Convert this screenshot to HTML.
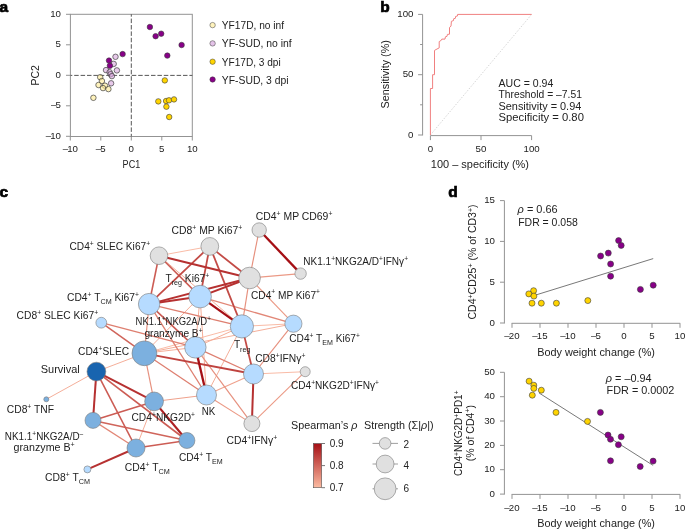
<!DOCTYPE html>
<html><head><meta charset="utf-8"><style>
html,body{margin:0;padding:0;background:#fff;}
svg{display:block;font-family:"Liberation Sans", sans-serif;will-change:transform;}
</style></head><body>
<svg width="685" height="530" viewBox="0 0 685 530">
<text x="-0.6" y="12" font-size="15.5" font-weight="bold" stroke="#000" stroke-width="0.7">a</text>
<text x="380.2" y="12.2" font-size="15.5" font-weight="bold" stroke="#000" stroke-width="0.7">b</text>
<text x="-0.4" y="196.6" font-size="15.5" font-weight="bold" stroke="#000" stroke-width="0.7">c</text>
<text x="448.2" y="197.1" font-size="15.5" font-weight="bold" stroke="#000" stroke-width="0.7">d</text>
<rect x="70.4" y="14.3" width="121.9" height="122.2" fill="none" stroke="#939393" stroke-width="1"/>
<line x1="131.3" y1="14.3" x2="131.3" y2="136.5" stroke="#444" stroke-width="0.9" stroke-dasharray="4.5 1.9" stroke-dashoffset="2.1"/>
<line x1="70.4" y1="75.4" x2="192.3" y2="75.4" stroke="#444" stroke-width="0.9" stroke-dasharray="4.5 1.9" stroke-dashoffset="2.6"/>
<line x1="66" y1="136.3" x2="70.4" y2="136.3" stroke="#939393"/>
<line x1="70.3" y1="136.5" x2="70.3" y2="140.5" stroke="#939393"/>
<text x="61" y="138.9" font-size="9.7" text-anchor="end" fill="#222"><tspan>–</tspan><tspan dx="-0.9">10</tspan></text>
<text x="70.3" y="152.1" font-size="9.7" text-anchor="middle" fill="#222"><tspan>–</tspan><tspan dx="-0.9">10</tspan></text>
<line x1="66" y1="105.8" x2="70.4" y2="105.8" stroke="#939393"/>
<line x1="100.8" y1="136.5" x2="100.8" y2="140.5" stroke="#939393"/>
<text x="61" y="108.4" font-size="9.7" text-anchor="end" fill="#222"><tspan>–</tspan><tspan dx="-0.9">5</tspan></text>
<text x="100.8" y="152.1" font-size="9.7" text-anchor="middle" fill="#222"><tspan>–</tspan><tspan dx="-0.9">5</tspan></text>
<line x1="66" y1="75.3" x2="70.4" y2="75.3" stroke="#939393"/>
<line x1="131.3" y1="136.5" x2="131.3" y2="140.5" stroke="#939393"/>
<text x="61" y="77.9" font-size="9.7" text-anchor="end" fill="#222">0</text>
<text x="131.3" y="152.1" font-size="9.7" text-anchor="middle" fill="#222">0</text>
<line x1="66" y1="44.8" x2="70.4" y2="44.8" stroke="#939393"/>
<line x1="161.8" y1="136.5" x2="161.8" y2="140.5" stroke="#939393"/>
<text x="61" y="47.4" font-size="9.7" text-anchor="end" fill="#222">5</text>
<text x="161.8" y="152.1" font-size="9.7" text-anchor="middle" fill="#222">5</text>
<line x1="66" y1="14.3" x2="70.4" y2="14.3" stroke="#939393"/>
<line x1="192.3" y1="136.5" x2="192.3" y2="140.5" stroke="#939393"/>
<text x="61" y="16.9" font-size="9.7" text-anchor="end" fill="#222">10</text>
<text x="192.3" y="152.1" font-size="9.7" text-anchor="middle" fill="#222">10</text>
<text x="122.6" y="168" font-size="10.5" fill="#222" textLength="17.6" lengthAdjust="spacingAndGlyphs">PC1</text>
<text transform="translate(38.6,75.3) rotate(-90)" x="0" y="0" font-size="10.5" text-anchor="middle" fill="#222">PC2</text>
<circle cx="100.2" cy="77.2" r="2.75" fill="#ffec94" fill-opacity="0.62" stroke="#3a3a3a" stroke-width="0.75" stroke-opacity="0.9"/>
<circle cx="101.9" cy="81" r="2.75" fill="#ffec94" fill-opacity="0.62" stroke="#3a3a3a" stroke-width="0.75" stroke-opacity="0.9"/>
<circle cx="98.5" cy="85" r="2.75" fill="#ffec94" fill-opacity="0.62" stroke="#3a3a3a" stroke-width="0.75" stroke-opacity="0.9"/>
<circle cx="105" cy="85.7" r="2.75" fill="#ffec94" fill-opacity="0.62" stroke="#3a3a3a" stroke-width="0.75" stroke-opacity="0.9"/>
<circle cx="103" cy="88.1" r="2.75" fill="#ffec94" fill-opacity="0.62" stroke="#3a3a3a" stroke-width="0.75" stroke-opacity="0.9"/>
<circle cx="108.4" cy="89.1" r="2.75" fill="#ffec94" fill-opacity="0.62" stroke="#3a3a3a" stroke-width="0.75" stroke-opacity="0.9"/>
<circle cx="93.4" cy="97.8" r="2.75" fill="#ffec94" fill-opacity="0.62" stroke="#3a3a3a" stroke-width="0.75" stroke-opacity="0.9"/>
<circle cx="106" cy="70.1" r="2.75" fill="#d7a5dc" fill-opacity="0.6" stroke="#3a3a3a" stroke-width="0.75" stroke-opacity="0.9"/>
<circle cx="116.9" cy="70.4" r="2.75" fill="#d7a5dc" fill-opacity="0.6" stroke="#3a3a3a" stroke-width="0.75" stroke-opacity="0.9"/>
<circle cx="109.6" cy="72.2" r="2.75" fill="#d7a5dc" fill-opacity="0.6" stroke="#3a3a3a" stroke-width="0.75" stroke-opacity="0.9"/>
<circle cx="110.7" cy="74.2" r="2.75" fill="#d7a5dc" fill-opacity="0.6" stroke="#3a3a3a" stroke-width="0.75" stroke-opacity="0.9"/>
<circle cx="111.9" cy="76.1" r="2.75" fill="#d7a5dc" fill-opacity="0.6" stroke="#3a3a3a" stroke-width="0.75" stroke-opacity="0.9"/>
<circle cx="111.1" cy="83.3" r="2.75" fill="#d7a5dc" fill-opacity="0.6" stroke="#3a3a3a" stroke-width="0.75" stroke-opacity="0.9"/>
<circle cx="115.5" cy="56.8" r="2.75" fill="#d7a5dc" fill-opacity="0.6" stroke="#3a3a3a" stroke-width="0.75" stroke-opacity="0.9"/>
<circle cx="113.7" cy="63.9" r="2.75" fill="#d7a5dc" fill-opacity="0.6" stroke="#3a3a3a" stroke-width="0.75" stroke-opacity="0.9"/>
<circle cx="149.9" cy="27.0" r="2.75" fill="#880088" fill-opacity="1" stroke="#3a3a3a" stroke-width="0.6" stroke-opacity="1"/>
<circle cx="155.6" cy="36.2" r="2.75" fill="#880088" fill-opacity="1" stroke="#3a3a3a" stroke-width="0.6" stroke-opacity="1"/>
<circle cx="161.2" cy="33.7" r="2.75" fill="#880088" fill-opacity="1" stroke="#3a3a3a" stroke-width="0.6" stroke-opacity="1"/>
<circle cx="181.6" cy="45.0" r="2.75" fill="#880088" fill-opacity="1" stroke="#3a3a3a" stroke-width="0.6" stroke-opacity="1"/>
<circle cx="167.3" cy="55.6" r="2.75" fill="#880088" fill-opacity="1" stroke="#3a3a3a" stroke-width="0.6" stroke-opacity="1"/>
<circle cx="122.6" cy="54.1" r="2.75" fill="#880088" fill-opacity="1" stroke="#3a3a3a" stroke-width="0.6" stroke-opacity="1"/>
<circle cx="109" cy="60.6" r="2.75" fill="#880088" fill-opacity="1" stroke="#3a3a3a" stroke-width="0.6" stroke-opacity="1"/>
<circle cx="109.9" cy="65.8" r="2.75" fill="#880088" fill-opacity="1" stroke="#3a3a3a" stroke-width="0.6" stroke-opacity="1"/>
<circle cx="164.8" cy="80.4" r="2.75" fill="#ffd400" fill-opacity="1" stroke="#3a3a3a" stroke-width="0.6" stroke-opacity="1"/>
<circle cx="158.3" cy="101.4" r="2.75" fill="#ffd400" fill-opacity="1" stroke="#3a3a3a" stroke-width="0.6" stroke-opacity="1"/>
<circle cx="166.1" cy="101" r="2.75" fill="#ffd400" fill-opacity="1" stroke="#3a3a3a" stroke-width="0.6" stroke-opacity="1"/>
<circle cx="169" cy="100.3" r="2.75" fill="#ffd400" fill-opacity="1" stroke="#3a3a3a" stroke-width="0.6" stroke-opacity="1"/>
<circle cx="174" cy="99.4" r="2.75" fill="#ffd400" fill-opacity="1" stroke="#3a3a3a" stroke-width="0.6" stroke-opacity="1"/>
<circle cx="166.4" cy="106.7" r="2.75" fill="#ffd400" fill-opacity="1" stroke="#3a3a3a" stroke-width="0.6" stroke-opacity="1"/>
<circle cx="169.2" cy="117" r="2.75" fill="#ffd400" fill-opacity="1" stroke="#3a3a3a" stroke-width="0.6" stroke-opacity="1"/>
<circle cx="212.6" cy="25.1" r="2.7" fill="#fff3bd" fill-opacity="1" stroke="#3a3a3a" stroke-width="0.5" stroke-opacity="1"/>
<text x="221.8" y="29.1" font-size="10.7" fill="#222" textLength="62.3" lengthAdjust="spacingAndGlyphs">YF17D, no inf</text>
<circle cx="212.6" cy="43.4" r="2.7" fill="#e4c3e8" fill-opacity="1" stroke="#3a3a3a" stroke-width="0.5" stroke-opacity="1"/>
<text x="221.8" y="47.4" font-size="10.7" fill="#222" textLength="69.9" lengthAdjust="spacingAndGlyphs">YF-SUD, no inf</text>
<circle cx="212.6" cy="61.7" r="2.7" fill="#ffd400" fill-opacity="1" stroke="#3a3a3a" stroke-width="0.5" stroke-opacity="1"/>
<text x="221.8" y="65.7" font-size="10.7" fill="#222" textLength="58.9" lengthAdjust="spacingAndGlyphs">YF17D, 3 dpi</text>
<circle cx="212.6" cy="79.5" r="2.7" fill="#880088" fill-opacity="1" stroke="#3a3a3a" stroke-width="0.5" stroke-opacity="1"/>
<text x="221.8" y="83.5" font-size="10.7" fill="#222" textLength="66.8" lengthAdjust="spacingAndGlyphs">YF-SUD, 3 dpi</text>
<line x1="422.6" y1="14.4" x2="422.6" y2="135.4" stroke="#939393"/>
<line x1="418.1" y1="135.0" x2="422.6" y2="135.0" stroke="#939393"/>
<text x="413.5" y="137.6" font-size="9.7" text-anchor="end" fill="#222">0</text>
<line x1="420.1" y1="104.8" x2="422.6" y2="104.8" stroke="#939393"/>
<line x1="418.1" y1="74.7" x2="422.6" y2="74.7" stroke="#939393"/>
<text x="413.5" y="77.3" font-size="9.7" text-anchor="end" fill="#222">50</text>
<line x1="420.1" y1="44.5" x2="422.6" y2="44.5" stroke="#939393"/>
<line x1="418.1" y1="14.4" x2="422.6" y2="14.4" stroke="#939393"/>
<text x="413.5" y="17.0" font-size="9.7" text-anchor="end" fill="#222">100</text>
<line x1="430.4" y1="135.6" x2="531.6" y2="135.6" stroke="#939393"/>
<line x1="430.4" y1="135.6" x2="430.4" y2="140.1" stroke="#939393"/>
<text x="430.4" y="151.8" font-size="9.7" text-anchor="middle" fill="#222">0</text>
<line x1="481.0" y1="135.6" x2="481.0" y2="140.1" stroke="#939393"/>
<text x="481.0" y="151.8" font-size="9.7" text-anchor="middle" fill="#222">50</text>
<line x1="531.6" y1="135.6" x2="531.6" y2="140.1" stroke="#939393"/>
<text x="531.6" y="151.8" font-size="9.7" text-anchor="middle" fill="#222">100</text>
<text x="430.8" y="168" font-size="10.5" fill="#222" textLength="98.2" lengthAdjust="spacingAndGlyphs">100 – specificity (%)</text>
<text transform="translate(388.6,74.3) rotate(-90)" x="-34.1" font-size="10.5" fill="#222" textLength="68.2" lengthAdjust="spacingAndGlyphs">Sensitivity (%)</text>
<line x1="430.4" y1="135" x2="531.6" y2="14.4" stroke="#bbb" stroke-width="0.6" stroke-dasharray="1.5 1.5"/>
<polyline fill="none" stroke="#f08080" stroke-width="1" points="430.4,135 430.4,88.5 432.6,88.5 432.6,74.7 434.5,74.7 434.5,50.4 437,49 439.2,47.9 439.2,41.6 441.4,40.2 441.8,39.1 445,39.1 445.4,36.8 447,36.4 447.4,34.4 449.5,34.2 449.5,27.4 451,26.2 451.4,21.3 453.5,20.6 453.7,18.7 455.4,18.3 455.6,16.4 457.5,16 457.6,14.4 531.6,14.4"/>
<text x="498.5" y="87.00" font-size="10.9" fill="#222" textLength="54.8" lengthAdjust="spacingAndGlyphs">AUC = 0.94</text>
<text x="498.5" y="98.45" font-size="10.9" fill="#222" textLength="83.4" lengthAdjust="spacingAndGlyphs">Threshold = –7.51</text>
<text x="498.5" y="109.90" font-size="10.9" fill="#222" textLength="82.8" lengthAdjust="spacingAndGlyphs">Sensitivity = 0.94</text>
<text x="498.5" y="121.35" font-size="10.9" fill="#222" textLength="85.4" lengthAdjust="spacingAndGlyphs">Specificity = 0.80</text>
<line x1="504.4" y1="200.6" x2="504.4" y2="323.5" stroke="#939393"/>
<line x1="500" y1="323.0" x2="504.4" y2="323.0" stroke="#939393"/>
<text x="495" y="325.7" font-size="9.7" text-anchor="end" fill="#222">0</text>
<line x1="500" y1="282.2" x2="504.4" y2="282.2" stroke="#939393"/>
<text x="495" y="284.9" font-size="9.7" text-anchor="end" fill="#222">5</text>
<line x1="500" y1="241.4" x2="504.4" y2="241.4" stroke="#939393"/>
<text x="495" y="244.1" font-size="9.7" text-anchor="end" fill="#222">10</text>
<line x1="500" y1="200.6" x2="504.4" y2="200.6" stroke="#939393"/>
<text x="495" y="203.3" font-size="9.7" text-anchor="end" fill="#222">15</text>
<line x1="511.6" y1="323.3" x2="680.2" y2="323.3" stroke="#939393"/>
<line x1="512.0" y1="323.3" x2="512.0" y2="327.8" stroke="#939393"/>
<text x="512.0" y="339.0" font-size="9.7" text-anchor="middle" fill="#222"><tspan>–</tspan><tspan dx="-0.9">20</tspan></text>
<line x1="540.0" y1="323.3" x2="540.0" y2="327.8" stroke="#939393"/>
<text x="540.0" y="339.0" font-size="9.7" text-anchor="middle" fill="#222"><tspan>–</tspan><tspan dx="-0.9">15</tspan></text>
<line x1="568.0" y1="323.3" x2="568.0" y2="327.8" stroke="#939393"/>
<text x="568.0" y="339.0" font-size="9.7" text-anchor="middle" fill="#222"><tspan>–</tspan><tspan dx="-0.9">10</tspan></text>
<line x1="596.0" y1="323.3" x2="596.0" y2="327.8" stroke="#939393"/>
<text x="596.0" y="339.0" font-size="9.7" text-anchor="middle" fill="#222"><tspan>–</tspan><tspan dx="-0.9">5</tspan></text>
<line x1="624.0" y1="323.3" x2="624.0" y2="327.8" stroke="#939393"/>
<text x="624.0" y="339.0" font-size="9.7" text-anchor="middle" fill="#222">0</text>
<line x1="652.0" y1="323.3" x2="652.0" y2="327.8" stroke="#939393"/>
<text x="652.0" y="339.0" font-size="9.7" text-anchor="middle" fill="#222">5</text>
<line x1="680.0" y1="323.3" x2="680.0" y2="327.8" stroke="#939393"/>
<text x="680.0" y="339.0" font-size="9.7" text-anchor="middle" fill="#222">10</text>
<line x1="504.4" y1="372.3" x2="504.4" y2="494.6" stroke="#939393"/>
<line x1="500" y1="494.1" x2="504.4" y2="494.1" stroke="#939393"/>
<text x="495" y="496.8" font-size="9.7" text-anchor="end" fill="#222">0</text>
<line x1="500" y1="469.7" x2="504.4" y2="469.7" stroke="#939393"/>
<text x="495" y="472.4" font-size="9.7" text-anchor="end" fill="#222">10</text>
<line x1="500" y1="445.4" x2="504.4" y2="445.4" stroke="#939393"/>
<text x="495" y="448.1" font-size="9.7" text-anchor="end" fill="#222">20</text>
<line x1="500" y1="421.0" x2="504.4" y2="421.0" stroke="#939393"/>
<text x="495" y="423.7" font-size="9.7" text-anchor="end" fill="#222">30</text>
<line x1="500" y1="396.7" x2="504.4" y2="396.7" stroke="#939393"/>
<text x="495" y="399.4" font-size="9.7" text-anchor="end" fill="#222">40</text>
<line x1="500" y1="372.3" x2="504.4" y2="372.3" stroke="#939393"/>
<text x="495" y="375.0" font-size="9.7" text-anchor="end" fill="#222">50</text>
<line x1="511.6" y1="494.4" x2="680.2" y2="494.4" stroke="#939393"/>
<line x1="512.0" y1="494.4" x2="512.0" y2="498.9" stroke="#939393"/>
<text x="512.0" y="510.7" font-size="9.7" text-anchor="middle" fill="#222"><tspan>–</tspan><tspan dx="-0.9">20</tspan></text>
<line x1="540.0" y1="494.4" x2="540.0" y2="498.9" stroke="#939393"/>
<text x="540.0" y="510.7" font-size="9.7" text-anchor="middle" fill="#222"><tspan>–</tspan><tspan dx="-0.9">15</tspan></text>
<line x1="568.0" y1="494.4" x2="568.0" y2="498.9" stroke="#939393"/>
<text x="568.0" y="510.7" font-size="9.7" text-anchor="middle" fill="#222"><tspan>–</tspan><tspan dx="-0.9">10</tspan></text>
<line x1="596.0" y1="494.4" x2="596.0" y2="498.9" stroke="#939393"/>
<text x="596.0" y="510.7" font-size="9.7" text-anchor="middle" fill="#222"><tspan>–</tspan><tspan dx="-0.9">5</tspan></text>
<line x1="624.0" y1="494.4" x2="624.0" y2="498.9" stroke="#939393"/>
<text x="624.0" y="510.7" font-size="9.7" text-anchor="middle" fill="#222">0</text>
<line x1="652.0" y1="494.4" x2="652.0" y2="498.9" stroke="#939393"/>
<text x="652.0" y="510.7" font-size="9.7" text-anchor="middle" fill="#222">5</text>
<line x1="680.0" y1="494.4" x2="680.0" y2="498.9" stroke="#939393"/>
<text x="680.0" y="510.7" font-size="9.7" text-anchor="middle" fill="#222">10</text>
<text x="537.2" y="356.1" font-size="10.5" fill="#222" textLength="117.8" lengthAdjust="spacingAndGlyphs">Body weight change (%)</text>
<text x="537.2" y="527.3" font-size="10.5" fill="#222" textLength="117.8" lengthAdjust="spacingAndGlyphs">Body weight change (%)</text>
<text transform="translate(476.2,262) rotate(-90)" font-size="10.5" text-anchor="middle" fill="#222">CD4<tspan font-size="7" dy="-3.5">+</tspan><tspan dy="3.5">CD25</tspan><tspan font-size="7" dy="-3.5">+</tspan><tspan dy="3.5"> (% of CD3</tspan><tspan font-size="7" dy="-3.5">+</tspan><tspan dy="3.5">)</tspan></text>
<text transform="translate(462.2,433.2) rotate(-90)" x="-42.75" font-size="10.5" fill="#222" textLength="85.5" lengthAdjust="spacingAndGlyphs">CD4<tspan font-size="7" dy="-3.5">+</tspan><tspan dy="3.5">NKG2D</tspan><tspan font-size="7" dy="-3.5">+</tspan><tspan dy="3.5">PD1</tspan><tspan font-size="7" dy="-3.5">+</tspan></text>
<text transform="translate(473.6,433.1) rotate(-90)" x="-28.2" font-size="10.5" fill="#222" textLength="56.4" lengthAdjust="spacingAndGlyphs">(% of CD4<tspan font-size="7" dy="-3.5">+</tspan><tspan dy="3.5">)</tspan></text>
<line x1="536.1" y1="294.9" x2="653.2" y2="258.6" stroke="#555" stroke-width="0.8"/>
<line x1="539.1" y1="393" x2="653.1" y2="465.4" stroke="#555" stroke-width="0.8"/>
<circle cx="533.6" cy="290.7" r="3.0" fill="#ffd400" fill-opacity="1" stroke="#3a3a3a" stroke-width="0.6" stroke-opacity="1"/>
<circle cx="528.8" cy="293.9" r="3.0" fill="#ffd400" fill-opacity="1" stroke="#3a3a3a" stroke-width="0.6" stroke-opacity="1"/>
<circle cx="533.9" cy="296.1" r="3.0" fill="#ffd400" fill-opacity="1" stroke="#3a3a3a" stroke-width="0.6" stroke-opacity="1"/>
<circle cx="532" cy="303.2" r="3.0" fill="#ffd400" fill-opacity="1" stroke="#3a3a3a" stroke-width="0.6" stroke-opacity="1"/>
<circle cx="541.3" cy="303.2" r="3.0" fill="#ffd400" fill-opacity="1" stroke="#3a3a3a" stroke-width="0.6" stroke-opacity="1"/>
<circle cx="556.4" cy="303.2" r="3.0" fill="#ffd400" fill-opacity="1" stroke="#3a3a3a" stroke-width="0.6" stroke-opacity="1"/>
<circle cx="587.8" cy="300.6" r="3.0" fill="#ffd400" fill-opacity="1" stroke="#3a3a3a" stroke-width="0.6" stroke-opacity="1"/>
<circle cx="529.1" cy="381.2" r="3.0" fill="#ffd400" fill-opacity="1" stroke="#3a3a3a" stroke-width="0.6" stroke-opacity="1"/>
<circle cx="533.8" cy="385.2" r="3.0" fill="#ffd400" fill-opacity="1" stroke="#3a3a3a" stroke-width="0.6" stroke-opacity="1"/>
<circle cx="533.8" cy="388.4" r="3.0" fill="#ffd400" fill-opacity="1" stroke="#3a3a3a" stroke-width="0.6" stroke-opacity="1"/>
<circle cx="541.3" cy="390.2" r="3.0" fill="#ffd400" fill-opacity="1" stroke="#3a3a3a" stroke-width="0.6" stroke-opacity="1"/>
<circle cx="532.3" cy="395.2" r="3.0" fill="#ffd400" fill-opacity="1" stroke="#3a3a3a" stroke-width="0.6" stroke-opacity="1"/>
<circle cx="556" cy="412.4" r="3.0" fill="#ffd400" fill-opacity="1" stroke="#3a3a3a" stroke-width="0.6" stroke-opacity="1"/>
<circle cx="587.5" cy="421.4" r="3.0" fill="#ffd400" fill-opacity="1" stroke="#3a3a3a" stroke-width="0.6" stroke-opacity="1"/>
<circle cx="618.6" cy="240.6" r="3.0" fill="#880088" fill-opacity="1" stroke="#3a3a3a" stroke-width="0.6" stroke-opacity="1"/>
<circle cx="621.2" cy="245.4" r="3.0" fill="#880088" fill-opacity="1" stroke="#3a3a3a" stroke-width="0.6" stroke-opacity="1"/>
<circle cx="608.3" cy="253.1" r="3.0" fill="#880088" fill-opacity="1" stroke="#3a3a3a" stroke-width="0.6" stroke-opacity="1"/>
<circle cx="600.6" cy="256" r="3.0" fill="#880088" fill-opacity="1" stroke="#3a3a3a" stroke-width="0.6" stroke-opacity="1"/>
<circle cx="610.6" cy="264" r="3.0" fill="#880088" fill-opacity="1" stroke="#3a3a3a" stroke-width="0.6" stroke-opacity="1"/>
<circle cx="610.6" cy="276.2" r="3.0" fill="#880088" fill-opacity="1" stroke="#3a3a3a" stroke-width="0.6" stroke-opacity="1"/>
<circle cx="640.4" cy="289.4" r="3.0" fill="#880088" fill-opacity="1" stroke="#3a3a3a" stroke-width="0.6" stroke-opacity="1"/>
<circle cx="653.2" cy="285.2" r="3.0" fill="#880088" fill-opacity="1" stroke="#3a3a3a" stroke-width="0.6" stroke-opacity="1"/>
<circle cx="600.4" cy="412.4" r="3.0" fill="#880088" fill-opacity="1" stroke="#3a3a3a" stroke-width="0.6" stroke-opacity="1"/>
<circle cx="608" cy="435" r="3.0" fill="#880088" fill-opacity="1" stroke="#3a3a3a" stroke-width="0.6" stroke-opacity="1"/>
<circle cx="610.5" cy="439.3" r="3.0" fill="#880088" fill-opacity="1" stroke="#3a3a3a" stroke-width="0.6" stroke-opacity="1"/>
<circle cx="621.2" cy="436.8" r="3.0" fill="#880088" fill-opacity="1" stroke="#3a3a3a" stroke-width="0.6" stroke-opacity="1"/>
<circle cx="618.4" cy="444.7" r="3.0" fill="#880088" fill-opacity="1" stroke="#3a3a3a" stroke-width="0.6" stroke-opacity="1"/>
<circle cx="610.5" cy="460.8" r="3.0" fill="#880088" fill-opacity="1" stroke="#3a3a3a" stroke-width="0.6" stroke-opacity="1"/>
<circle cx="640.2" cy="466.5" r="3.0" fill="#880088" fill-opacity="1" stroke="#3a3a3a" stroke-width="0.6" stroke-opacity="1"/>
<circle cx="653.1" cy="461.1" r="3.0" fill="#880088" fill-opacity="1" stroke="#3a3a3a" stroke-width="0.6" stroke-opacity="1"/>
<text x="517.6" y="212.8" font-size="10.8" fill="#222" textLength="40" lengthAdjust="spacingAndGlyphs"><tspan font-style="italic">ρ</tspan> = 0.66</text>
<text x="518.2" y="225.8" font-size="10.8" fill="#222" textLength="59.6" lengthAdjust="spacingAndGlyphs">FDR = 0.058</text>
<text x="605.8" y="381.6" font-size="10.8" fill="#222" textLength="45.8" lengthAdjust="spacingAndGlyphs"><tspan font-style="italic">ρ</tspan> = –0.94</text>
<text x="606.6" y="393.6" font-size="10.8" fill="#222" textLength="67.8" lengthAdjust="spacingAndGlyphs">FDR = 0.0002</text>
<line x1="159.0" y1="255.7" x2="209.8" y2="246.4" stroke="#f8b29a" stroke-width="0.88"/>
<line x1="241.9" y1="326.4" x2="293.4" y2="323.7" stroke="#f8b29a" stroke-width="0.88"/>
<line x1="241.9" y1="326.4" x2="144.4" y2="353.3" stroke="#f8b29a" stroke-width="0.88"/>
<line x1="253.5" y1="374.0" x2="305.2" y2="371.7" stroke="#f8b29a" stroke-width="0.88"/>
<line x1="159.0" y1="255.7" x2="241.9" y2="326.4" stroke="#f3aa93" stroke-width="0.95"/>
<line x1="200.1" y1="296.6" x2="195.4" y2="347.4" stroke="#f3aa93" stroke-width="0.95"/>
<line x1="200.1" y1="296.6" x2="206.5" y2="395.0" stroke="#f3aa93" stroke-width="0.95"/>
<line x1="200.1" y1="296.6" x2="144.4" y2="353.3" stroke="#f3aa93" stroke-width="0.95"/>
<line x1="241.9" y1="326.4" x2="195.4" y2="347.4" stroke="#f3aa93" stroke-width="0.95"/>
<line x1="241.9" y1="326.4" x2="206.5" y2="395.0" stroke="#f3aa93" stroke-width="0.95"/>
<line x1="293.4" y1="323.7" x2="144.4" y2="353.3" stroke="#f3aa93" stroke-width="0.95"/>
<line x1="195.4" y1="347.4" x2="144.4" y2="353.3" stroke="#f3aa93" stroke-width="0.95"/>
<line x1="144.4" y1="353.3" x2="96.4" y2="371.6" stroke="#f3aa93" stroke-width="0.95"/>
<line x1="96.4" y1="371.6" x2="46.3" y2="399.3" stroke="#f3aa93" stroke-width="0.95"/>
<line x1="154.1" y1="401.4" x2="136.0" y2="448.0" stroke="#f3aa93" stroke-width="0.95"/>
<line x1="253.5" y1="374.0" x2="206.5" y2="395.0" stroke="#efa18c" stroke-width="1.02"/>
<line x1="206.5" y1="395.0" x2="154.1" y2="401.4" stroke="#efa18c" stroke-width="1.02"/>
<line x1="300.6" y1="273.6" x2="249.6" y2="278.0" stroke="#eb9985" stroke-width="1.10"/>
<line x1="249.6" y1="278.0" x2="293.4" y2="323.7" stroke="#eb9985" stroke-width="1.10"/>
<line x1="305.2" y1="371.7" x2="251.9" y2="423.6" stroke="#eb9985" stroke-width="1.10"/>
<line x1="206.5" y1="395.0" x2="251.9" y2="423.6" stroke="#eb9985" stroke-width="1.10"/>
<line x1="259.2" y1="230.0" x2="249.6" y2="278.0" stroke="#e6907e" stroke-width="1.18"/>
<line x1="249.6" y1="278.0" x2="241.9" y2="326.4" stroke="#e6907e" stroke-width="1.18"/>
<line x1="149.1" y1="304.1" x2="144.4" y2="353.3" stroke="#e6907e" stroke-width="1.18"/>
<line x1="293.4" y1="323.7" x2="253.5" y2="374.0" stroke="#e6907e" stroke-width="1.18"/>
<line x1="195.4" y1="347.4" x2="251.9" y2="423.6" stroke="#e6907e" stroke-width="1.18"/>
<line x1="144.4" y1="353.3" x2="154.1" y2="401.4" stroke="#e6907e" stroke-width="1.18"/>
<line x1="200.1" y1="296.6" x2="293.4" y2="323.7" stroke="#e28777" stroke-width="1.25"/>
<line x1="93.0" y1="420.4" x2="136.0" y2="448.0" stroke="#e28777" stroke-width="1.25"/>
<line x1="149.1" y1="304.1" x2="241.9" y2="326.4" stroke="#de7f70" stroke-width="1.32"/>
<line x1="149.1" y1="304.1" x2="206.5" y2="395.0" stroke="#de7f70" stroke-width="1.32"/>
<line x1="101.3" y1="322.7" x2="195.4" y2="347.4" stroke="#de7f70" stroke-width="1.32"/>
<line x1="195.4" y1="347.4" x2="253.5" y2="374.0" stroke="#de7f70" stroke-width="1.32"/>
<line x1="144.4" y1="353.3" x2="206.5" y2="395.0" stroke="#de7f70" stroke-width="1.32"/>
<line x1="101.3" y1="322.7" x2="144.4" y2="353.3" stroke="#d0655b" stroke-width="1.55"/>
<line x1="93.0" y1="420.4" x2="186.9" y2="440.5" stroke="#d0655b" stroke-width="1.55"/>
<line x1="159.0" y1="255.7" x2="149.1" y2="304.1" stroke="#cc5c54" stroke-width="1.62"/>
<line x1="159.0" y1="255.7" x2="200.1" y2="296.6" stroke="#cc5c54" stroke-width="1.62"/>
<line x1="149.1" y1="304.1" x2="195.4" y2="347.4" stroke="#cc5c54" stroke-width="1.62"/>
<line x1="96.4" y1="371.6" x2="136.0" y2="448.0" stroke="#cc5c54" stroke-width="1.62"/>
<line x1="96.4" y1="371.6" x2="186.9" y2="440.5" stroke="#cc5c54" stroke-width="1.62"/>
<line x1="154.1" y1="401.4" x2="93.0" y2="420.4" stroke="#cc5c54" stroke-width="1.62"/>
<line x1="186.9" y1="440.5" x2="136.0" y2="448.0" stroke="#cc5c54" stroke-width="1.62"/>
<line x1="209.8" y1="246.4" x2="149.1" y2="304.1" stroke="#c34b46" stroke-width="1.78"/>
<line x1="209.8" y1="246.4" x2="200.1" y2="296.6" stroke="#c34b46" stroke-width="1.78"/>
<line x1="209.8" y1="246.4" x2="241.9" y2="326.4" stroke="#c34b46" stroke-width="1.78"/>
<line x1="209.8" y1="246.4" x2="249.6" y2="278.0" stroke="#c34b46" stroke-width="1.78"/>
<line x1="241.9" y1="326.4" x2="253.5" y2="374.0" stroke="#c34b46" stroke-width="1.78"/>
<line x1="144.4" y1="353.3" x2="253.5" y2="374.0" stroke="#bf433f" stroke-width="1.85"/>
<line x1="159.0" y1="255.7" x2="249.6" y2="278.0" stroke="#b63131" stroke-width="2.00"/>
<line x1="249.6" y1="278.0" x2="200.1" y2="296.6" stroke="#b63131" stroke-width="2.00"/>
<line x1="249.6" y1="278.0" x2="149.1" y2="304.1" stroke="#b63131" stroke-width="2.00"/>
<line x1="200.1" y1="296.6" x2="149.1" y2="304.1" stroke="#b63131" stroke-width="2.00"/>
<line x1="96.4" y1="371.6" x2="93.0" y2="420.4" stroke="#b63131" stroke-width="2.00"/>
<line x1="96.4" y1="371.6" x2="154.1" y2="401.4" stroke="#b63131" stroke-width="2.00"/>
<line x1="253.5" y1="374.0" x2="251.9" y2="423.6" stroke="#b63131" stroke-width="2.00"/>
<line x1="136.0" y1="448.0" x2="87.4" y2="469.4" stroke="#b63131" stroke-width="2.00"/>
<line x1="154.1" y1="401.4" x2="186.9" y2="440.5" stroke="#ae2023" stroke-width="2.15"/>
<line x1="259.2" y1="230.0" x2="300.6" y2="273.6" stroke="#a50f15" stroke-width="2.30"/>
<line x1="200.1" y1="296.6" x2="241.9" y2="326.4" stroke="#a50f15" stroke-width="2.30"/>
<line x1="195.4" y1="347.4" x2="206.5" y2="395.0" stroke="#a50f15" stroke-width="2.30"/>
<circle cx="159.0" cy="255.7" r="8.8" fill="#e0e0e0" stroke="#7a7a7a" stroke-width="0.6"/>
<circle cx="209.8" cy="246.4" r="8.9" fill="#e0e0e0" stroke="#7a7a7a" stroke-width="0.6"/>
<circle cx="259.2" cy="230.0" r="7.2" fill="#e0e0e0" stroke="#7a7a7a" stroke-width="0.6"/>
<circle cx="300.6" cy="273.6" r="5.7" fill="#e0e0e0" stroke="#7a7a7a" stroke-width="0.6"/>
<circle cx="249.6" cy="278.0" r="10.8" fill="#e0e0e0" stroke="#7a7a7a" stroke-width="0.6"/>
<circle cx="200.1" cy="296.6" r="11.3" fill="#b6dbff" stroke="#7a7a7a" stroke-width="0.6"/>
<circle cx="149.1" cy="304.1" r="10.7" fill="#b6dbff" stroke="#7a7a7a" stroke-width="0.6"/>
<circle cx="101.3" cy="322.7" r="5.4" fill="#b6dbff" stroke="#7a7a7a" stroke-width="0.6"/>
<circle cx="241.9" cy="326.4" r="11.6" fill="#b6dbff" stroke="#7a7a7a" stroke-width="0.6"/>
<circle cx="293.4" cy="323.7" r="8.6" fill="#b6dbff" stroke="#7a7a7a" stroke-width="0.6"/>
<circle cx="195.4" cy="347.4" r="10.7" fill="#b6dbff" stroke="#7a7a7a" stroke-width="0.6"/>
<circle cx="144.4" cy="353.3" r="12.4" fill="#7cb0df" stroke="#7a7a7a" stroke-width="0.6"/>
<circle cx="96.4" cy="371.6" r="9.4" fill="#1864af" stroke="#7a7a7a" stroke-width="0.6"/>
<circle cx="253.5" cy="374.0" r="10.0" fill="#b6dbff" stroke="#7a7a7a" stroke-width="0.6"/>
<circle cx="305.2" cy="371.7" r="5.0" fill="#e0e0e0" stroke="#7a7a7a" stroke-width="0.6"/>
<circle cx="206.5" cy="395.0" r="10.0" fill="#b6dbff" stroke="#7a7a7a" stroke-width="0.6"/>
<circle cx="251.9" cy="423.6" r="8.0" fill="#e0e0e0" stroke="#7a7a7a" stroke-width="0.6"/>
<circle cx="154.1" cy="401.4" r="9.4" fill="#7cb0df" stroke="#7a7a7a" stroke-width="0.6"/>
<circle cx="46.3" cy="399.3" r="2.5" fill="#7cb0df" stroke="#7a7a7a" stroke-width="0.6"/>
<circle cx="93.0" cy="420.4" r="8.0" fill="#7cb0df" stroke="#7a7a7a" stroke-width="0.6"/>
<circle cx="186.9" cy="440.5" r="8.0" fill="#7cb0df" stroke="#7a7a7a" stroke-width="0.6"/>
<circle cx="136.0" cy="448.0" r="9.0" fill="#7cb0df" stroke="#7a7a7a" stroke-width="0.6"/>
<circle cx="87.4" cy="469.4" r="3.5" fill="#b6dbff" stroke="#7a7a7a" stroke-width="0.6"/>
<text x="69.5" y="249.8" font-size="10.8" fill="#222" textLength="80.6" lengthAdjust="spacingAndGlyphs"><tspan>CD4</tspan><tspan dy="-4.10" font-size="7.13">+</tspan><tspan dy="4.10"> SLEC Ki67</tspan><tspan dy="-4.10" font-size="7.13">+</tspan></text>
<text x="171.5" y="233.6" font-size="10.8" fill="#222" textLength="70.8" lengthAdjust="spacingAndGlyphs"><tspan>CD8</tspan><tspan dy="-4.10" font-size="7.13">+</tspan><tspan dy="4.10"> MP Ki67</tspan><tspan dy="-4.10" font-size="7.13">+</tspan></text>
<text x="255.8" y="220.4" font-size="10.8" fill="#222" textLength="76.6" lengthAdjust="spacingAndGlyphs"><tspan>CD4</tspan><tspan dy="-4.10" font-size="7.13">+</tspan><tspan dy="4.10"> MP CD69</tspan><tspan dy="-4.10" font-size="7.13">+</tspan></text>
<text x="303.3" y="264.6" font-size="10.8" fill="#222" textLength="104.7" lengthAdjust="spacingAndGlyphs"><tspan>NK1.1</tspan><tspan dy="-4.10" font-size="7.13">+</tspan><tspan dy="4.10">NKG2A/D</tspan><tspan dy="-4.10" font-size="7.13">+</tspan><tspan dy="4.10">IFNγ</tspan><tspan dy="-4.10" font-size="7.13">+</tspan></text>
<text x="251.0" y="298.5" font-size="10.8" fill="#222" textLength="69.0" lengthAdjust="spacingAndGlyphs"><tspan>CD4</tspan><tspan dy="-4.10" font-size="7.13">+</tspan><tspan dy="4.10"> MP Ki67</tspan><tspan dy="-4.10" font-size="7.13">+</tspan></text>
<text x="67.0" y="300.9" font-size="10.8" fill="#222" textLength="72.0" lengthAdjust="spacingAndGlyphs"><tspan>CD4</tspan><tspan dy="-4.10" font-size="7.13">+</tspan><tspan dy="4.10"> T</tspan><tspan dy="3.24" font-size="7.56">CM</tspan><tspan dy="-3.24"> Ki67</tspan><tspan dy="-4.10" font-size="7.13">+</tspan></text>
<text x="16.6" y="319.2" font-size="10.8" fill="#222" textLength="81.5" lengthAdjust="spacingAndGlyphs"><tspan>CD8</tspan><tspan dy="-4.10" font-size="7.13">+</tspan><tspan dy="4.10"> SLEC Ki67</tspan><tspan dy="-4.10" font-size="7.13">+</tspan></text>
<text x="135.6" y="324.7" font-size="10.8" fill="#222" textLength="75.2" lengthAdjust="spacingAndGlyphs"><tspan>NK1.1</tspan><tspan dy="-4.10" font-size="7.13">+</tspan><tspan dy="4.10">NKG2A/D</tspan><tspan dy="-4.10" font-size="7.13">+</tspan></text>
<text x="144.4" y="336.8" font-size="10.8" fill="#222" textLength="58.2" lengthAdjust="spacingAndGlyphs"><tspan>granzyme B</tspan><tspan dy="-4.10" font-size="7.13">+</tspan></text>
<text x="78.1" y="355.2" font-size="10.8" fill="#222" textLength="51.0" lengthAdjust="spacingAndGlyphs"><tspan>CD4</tspan><tspan dy="-4.10" font-size="7.13">+</tspan><tspan dy="4.10">SLEC</tspan></text>
<text x="40.7" y="373.0" font-size="10.8" fill="#222" textLength="39.1" lengthAdjust="spacingAndGlyphs"><tspan>Survival</tspan></text>
<text x="289.3" y="342.0" font-size="10.8" fill="#222" textLength="70.5" lengthAdjust="spacingAndGlyphs"><tspan>CD4</tspan><tspan dy="-4.10" font-size="7.13">+</tspan><tspan dy="4.10"> T</tspan><tspan dy="3.24" font-size="7.56">EM</tspan><tspan dy="-3.24"> Ki67</tspan><tspan dy="-4.10" font-size="7.13">+</tspan></text>
<text x="6.8" y="412.9" font-size="10.8" fill="#222" textLength="47.2" lengthAdjust="spacingAndGlyphs"><tspan>CD8</tspan><tspan dy="-4.10" font-size="7.13">+</tspan><tspan dy="4.10"> TNF</tspan></text>
<text x="4.8" y="439.8" font-size="10.8" fill="#222" textLength="78.4" lengthAdjust="spacingAndGlyphs"><tspan>NK1.1</tspan><tspan dy="-4.10" font-size="7.13">+</tspan><tspan dy="4.10">NKG2A/D</tspan><tspan dy="-4.10" font-size="7.13">–</tspan></text>
<text x="13.6" y="451.1" font-size="10.8" fill="#222" textLength="61.1" lengthAdjust="spacingAndGlyphs"><tspan>granzyme B</tspan><tspan dy="-4.10" font-size="7.13">+</tspan></text>
<text x="131.5" y="421.4" font-size="10.8" fill="#222" textLength="63.5" lengthAdjust="spacingAndGlyphs"><tspan>CD4</tspan><tspan dy="-4.10" font-size="7.13">+</tspan><tspan dy="4.10">NKG2D</tspan><tspan dy="-4.10" font-size="7.13">+</tspan></text>
<text x="201.8" y="415.3" font-size="10.8" fill="#222" textLength="13.6" lengthAdjust="spacingAndGlyphs"><tspan>NK</tspan></text>
<text x="178.9" y="460.6" font-size="10.8" fill="#222" textLength="43.8" lengthAdjust="spacingAndGlyphs"><tspan>CD4</tspan><tspan dy="-4.10" font-size="7.13">+</tspan><tspan dy="4.10"> T</tspan><tspan dy="3.24" font-size="7.56">EM</tspan></text>
<text x="124.8" y="470.7" font-size="10.8" fill="#222" textLength="45.0" lengthAdjust="spacingAndGlyphs"><tspan>CD4</tspan><tspan dy="-4.10" font-size="7.13">+</tspan><tspan dy="4.10"> T</tspan><tspan dy="3.24" font-size="7.56">CM</tspan></text>
<text x="45.1" y="480.9" font-size="10.8" fill="#222" textLength="44.9" lengthAdjust="spacingAndGlyphs"><tspan>CD8</tspan><tspan dy="-4.10" font-size="7.13">+</tspan><tspan dy="4.10"> T</tspan><tspan dy="3.24" font-size="7.56">CM</tspan></text>
<text x="226.6" y="444.3" font-size="10.8" fill="#222" textLength="50.6" lengthAdjust="spacingAndGlyphs"><tspan>CD4</tspan><tspan dy="-4.10" font-size="7.13">+</tspan><tspan dy="4.10">IFNγ</tspan><tspan dy="-4.10" font-size="7.13">+</tspan></text>
<text x="290.9" y="388.9" font-size="10.8" fill="#222" textLength="88.1" lengthAdjust="spacingAndGlyphs"><tspan>CD4</tspan><tspan dy="-4.10" font-size="7.13">+</tspan><tspan dy="4.10">NKG2D</tspan><tspan dy="-4.10" font-size="7.13">+</tspan><tspan dy="4.10">IFNγ</tspan><tspan dy="-4.10" font-size="7.13">+</tspan></text>
<text x="255.2" y="361.8" font-size="10.8" fill="#222" textLength="50.2" lengthAdjust="spacingAndGlyphs"><tspan>CD8</tspan><tspan dy="-4.10" font-size="7.13">+</tspan><tspan dy="4.10">IFNγ</tspan><tspan dy="-4.10" font-size="7.13">+</tspan></text>
<text x="165.5" y="281.7" font-size="10.8" fill="#222" textLength="43.7" lengthAdjust="spacingAndGlyphs"><tspan>T</tspan><tspan dy="3.24" font-size="7.56">reg</tspan><tspan dy="-3.24"> Ki67</tspan><tspan dy="-4.10" font-size="7.13">+</tspan></text>
<text x="233.9" y="348.3" font-size="10.8" fill="#222" textLength="16.5" lengthAdjust="spacingAndGlyphs"><tspan>T</tspan><tspan dy="3.24" font-size="7.56">reg</tspan></text>
<defs><linearGradient id="cb" x1="0" y1="0" x2="0" y2="1"><stop offset="0" stop-color="#a50f15"/><stop offset="1" stop-color="#fcbba1"/></linearGradient></defs>
<rect x="313.4" y="443.5" width="8.3" height="44.2" fill="url(#cb)" stroke="#555" stroke-width="0.6"/>
<line x1="321.7" y1="443.5" x2="325" y2="443.5" stroke="#555" stroke-width="0.8"/>
<text x="329.7" y="447.1" font-size="10" fill="#222">0.9</text>
<line x1="321.7" y1="465.6" x2="325" y2="465.6" stroke="#555" stroke-width="0.8"/>
<text x="329.7" y="469.20000000000005" font-size="10" fill="#222">0.8</text>
<line x1="321.7" y1="487.7" x2="325" y2="487.7" stroke="#555" stroke-width="0.8"/>
<text x="329.7" y="491.3" font-size="10" fill="#222">0.7</text>
<text x="291" y="429.4" font-size="10.8" fill="#222" textLength="66.5" lengthAdjust="spacingAndGlyphs">Spearman’s <tspan font-style="italic">ρ</tspan></text>
<text x="364" y="429.4" font-size="10.8" fill="#222" textLength="69.7" lengthAdjust="spacingAndGlyphs">Strength (Σ|<tspan font-style="italic">ρ</tspan>|)</text>
<line x1="372.5" y1="443.4" x2="398" y2="443.4" stroke="#888" stroke-width="0.8"/>
<circle cx="385.1" cy="443.4" r="5.8" fill="#e0e0e0" stroke="#7a7a7a" stroke-width="0.6"/>
<text x="403.5" y="447.5" font-size="10" fill="#222">2</text>
<line x1="372.5" y1="464.0" x2="398" y2="464.0" stroke="#888" stroke-width="0.8"/>
<circle cx="385.1" cy="464.0" r="8.9" fill="#e0e0e0" stroke="#7a7a7a" stroke-width="0.6"/>
<text x="403.5" y="469.40000000000003" font-size="10" fill="#222">4</text>
<line x1="372.5" y1="488.8" x2="398" y2="488.8" stroke="#888" stroke-width="0.8"/>
<circle cx="385.1" cy="488.8" r="10.9" fill="#e0e0e0" stroke="#7a7a7a" stroke-width="0.6"/>
<text x="403.5" y="492.40000000000003" font-size="10" fill="#222">6</text>
</svg>
</body></html>
